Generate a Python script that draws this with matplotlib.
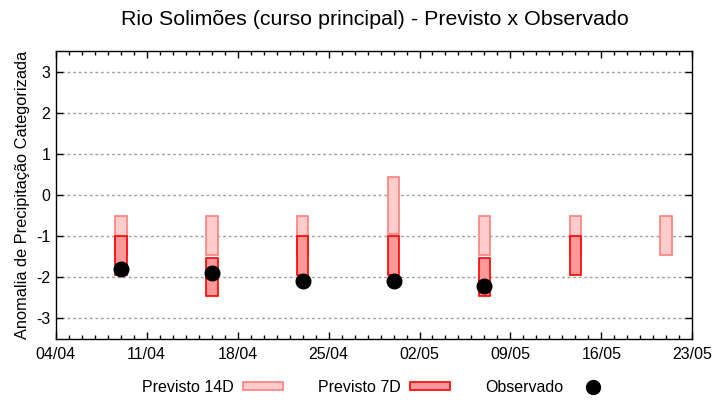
import numpy as np
import pandas as pd
import matplotlib
matplotlib.use("Agg")
import matplotlib.pyplot as plt
import matplotlib.dates as mdates
from matplotlib.patches import Patch
from matplotlib.lines import Line2D

plt.rcParams['font.family'] = ['Liberation Sans', 'DejaVu Sans']

# --- data -----------------------------------------------------------
datas = ["2024-04-09", "2024-04-16", "2024-04-23", "2024-04-30",
         "2024-05-07", "2024-05-14", "2024-05-21"]
prev14_top = [-0.5, -0.5, -0.5, 0.45, -0.5, -0.5, -0.5]
prev14_base = [-1.45, -1.45, -1.45, -0.95, -1.45, -1.45, -1.45]
prev7_top = [-1.0, -1.52, -1.0, -1.0, -1.52, -1.0, np.nan]
prev7_base = [-1.95, -2.45, -1.95, -1.95, -2.45, -1.95, np.nan]
observado = [-1.8, -1.9, -2.1, -2.1, -2.2, np.nan, np.nan]

x_ticks = ["2024-04-04", "2024-04-11", "2024-04-18", "2024-04-25",
           "2024-05-02", "2024-05-09", "2024-05-16", "2024-05-23"]

titulo = "Rio Solimões (curso principal) - Previsto x Observado"
y_label = "Anomalia de Precipitação Categorizada"

cor14_fill, cor14_edge = '#ffcccc', '#ff7f7f'
cor7_fill, cor7_edge = '#ff9999', '#ff0000'
# ---------------------------------------------------------------------

dt = mdates.date2num(pd.to_datetime(datas))
xt = mdates.date2num(pd.to_datetime(x_ticks))
largura = 0.9

fig = plt.figure(figsize=(7.2, 4), dpi=100)
ax = fig.add_axes([0.0775, 0.1525, 0.884, 0.7195])

t14 = np.array(prev14_top)
b14 = np.array(prev14_base)
ax.bar(dt, t14 - b14, bottom=b14, width=largura, color=cor14_fill,
       edgecolor=cor14_edge, linewidth=1.2, zorder=2)

t7 = np.array(prev7_top)
b7 = np.array(prev7_base)
ok = ~np.isnan(t7)
ax.bar(dt[ok], (t7 - b7)[ok], bottom=b7[ok], width=largura, color=cor7_fill,
       edgecolor=cor7_edge, linewidth=1.2, zorder=3)

obs = np.array(observado)
ok = ~np.isnan(obs)
ax.plot(dt[ok], obs[ok], 'o', color='black', markersize=10.5, zorder=4,
        linestyle='none')

ax.set_xlim(xt[0], xt[-1])
ax.set_ylim(-3.5, 3.5)
ax.set_xticks(xt)
ax.set_xticklabels([pd.Timestamp(d).strftime('%d/%m') for d in x_ticks])
ax.xaxis.set_minor_locator(mdates.DayLocator())
ax.set_yticks(range(-3, 4))
ax.set_yticklabels([str(v) for v in range(-3, 4)])

ax.tick_params(axis='both', which='both', direction='in', top=True,
               right=True, labelsize=11.5, width=1, colors='black')
ax.tick_params(axis='both', which='major', length=5, pad=6)
ax.tick_params(axis='x', which='minor', length=3)
ax.tick_params(axis='y', which='major', pad=4)

for s in ax.spines.values():
    s.set_linewidth(1)
ax.yaxis.grid(True, linestyle=(0, (2, 2)), color='#a0a0a0', linewidth=1)
ax.set_axisbelow(True)

ax.set_ylabel(y_label, fontsize=11.8, labelpad=4)
fig.suptitle(titulo, fontsize=15.4, x=0.52, y=0.975)

handles = [Patch(facecolor=cor14_fill, edgecolor=cor14_edge, linewidth=1.2),
           Patch(facecolor=cor7_fill, edgecolor=cor7_edge, linewidth=1.2),
           Line2D([], [], marker='o', color='black', markersize=10,
                  linestyle='none')]
fig.legend(handles, ["Previsto 14D", "Previsto 7D", "Observado"],
           loc='center', bbox_to_anchor=(0.524, 0.032), ncol=3,
           markerfirst=False, frameon=False, fontsize=11.5,
           handlelength=2.5, handleheight=0.45, handletextpad=0.6,
           columnspacing=2.2)

fig.savefig("out.png", dpi=100)
